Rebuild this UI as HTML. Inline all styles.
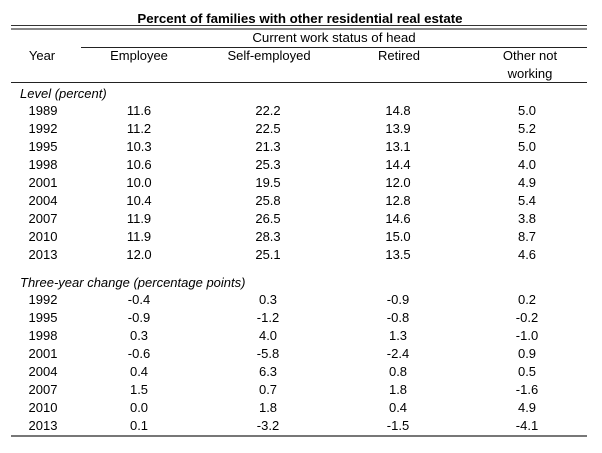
<!DOCTYPE html>
<html><head><style>
body{margin:0;width:602px;height:453px;background:#fff;position:relative;font-family:"Liberation Sans",Arial,sans-serif;font-size:13px;line-height:15px;color:#000;overflow:hidden}
.t{position:absolute;white-space:nowrap;transform:translateX(-50%)}
.l{position:absolute;white-space:nowrap}
.h{position:absolute;background:#555}
</style></head><body>
<div class="t" style="left:300px;top:11px;font-weight:bold;font-size:13.3px">Percent of families with other residential real estate</div>
<div class="h" style="left:11px;width:576px;top:25px;height:1px;background:#333"></div>
<div class="h" style="left:11px;width:576px;top:28px;height:2px;background:#888"></div>
<div class="t" style="left:334px;top:30px;font-size:13.3px">Current work status of head</div>
<div class="h" style="left:81px;width:506px;top:47px;height:1px;background:#222"></div>
<div class="t" style="left:42px;top:48px">Year</div>
<div class="t" style="left:139px;top:48px">Employee</div>
<div class="t" style="left:269px;top:48px">Self-employed</div>
<div class="t" style="left:399px;top:48px">Retired</div>
<div class="t" style="left:530px;top:48px">Other not</div>
<div class="t" style="left:530px;top:66px">working</div>
<div class="h" style="left:11px;width:576px;top:82px;height:1px;background:#222"></div>
<div class="l" style="left:20px;top:86px;font-style:italic">Level (percent)</div>
<div class="l" style="left:20px;top:275px;font-style:italic">Three-year change (percentage points)</div>
<div id="r"></div>
<div class="h" style="left:11px;width:576px;top:435px;height:2px;background:#777"></div>
<script>
var a=[["1989","11.6","22.2","14.8","5.0"],["1992","11.2","22.5","13.9","5.2"],["1995","10.3","21.3","13.1","5.0"],["1998","10.6","25.3","14.4","4.0"],["2001","10.0","19.5","12.0","4.9"],["2004","10.4","25.8","12.8","5.4"],["2007","11.9","26.5","14.6","3.8"],["2010","11.9","28.3","15.0","8.7"],["2013","12.0","25.1","13.5","4.6"]];
var b=[["1992","-0.4","0.3","-0.9","0.2"],["1995","-0.9","-1.2","-0.8","-0.2"],["1998","0.3","4.0","1.3","-1.0"],["2001","-0.6","-5.8","-2.4","0.9"],["2004","0.4","6.3","0.8","0.5"],["2007","1.5","0.7","1.8","-1.6"],["2010","0.0","1.8","0.4","4.9"],["2013","0.1","-3.2","-1.5","-4.1"]];
var xs=[43,139,268,398,527],h="";
function put(rows,y0,dy){rows.forEach(function(r,i){r.forEach(function(v,j){h+='<div class="t" style="left:'+xs[j]+'px;top:'+(y0+i*dy)+'px">'+v+'</div>';});});}
put(a,102.5,18.1);put(b,291.5,18);
document.getElementById('r').outerHTML=h;
</script>
</body></html>
